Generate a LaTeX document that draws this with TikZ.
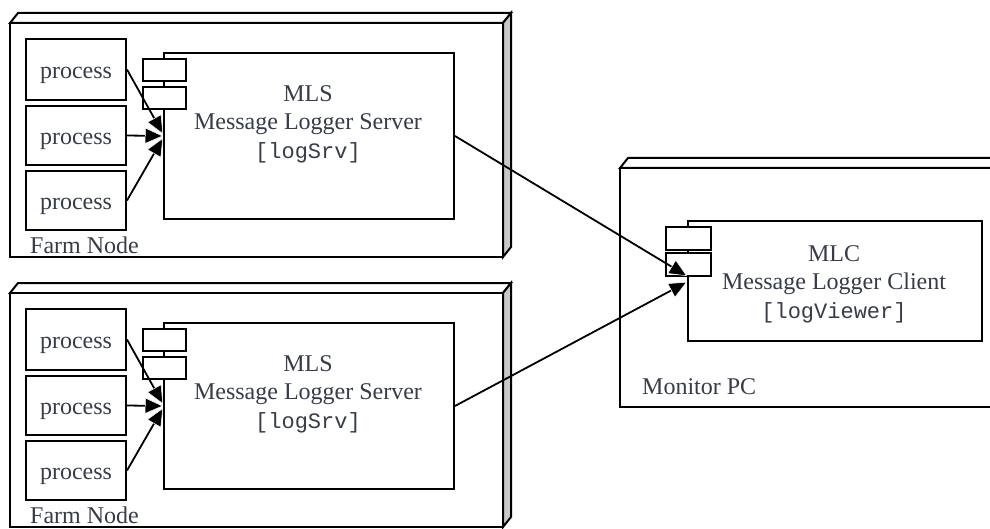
\documentclass[tikz,border=0pt]{standalone}
\usepackage{fontspec}
\setmainfont{Liberation Serif}
\setmonofont{Liberation Mono}
\usetikzlibrary{arrows.meta,calc}

\definecolor{ink}{RGB}{55,60,75}
\definecolor{sideshade}{RGB}{200,200,200}

% deployment node: front face node #1, corners (#2,#3)-(#4,#5), depth (8,-10)
\newcommand\deploynode[5]{%
  \filldraw[frame,fill=white] (#2,#3) -- (#2+8,#3-10) -- (#4+8,#3-10) -- (#4,#3) -- cycle;
  \filldraw[frame,fill=sideshade] (#4,#3) -- (#4+8,#3-10) -- (#4+8,#5-10) -- (#4,#5) -- cycle;
  \path (#2,#3) coordinate (#1nw) (#4,#5) coordinate (#1se);
  \node[frame,fill=white,fit box] (#1) at ($(#1nw)!0.5!(#1se)$)
    [minimum width={((#4)-(#2))*1pt}, minimum height={((#5)-(#3))*1pt}] {};
}

% farm node with three processes and a logger server, shifted down by #2
\newcommand\farmnode[2]{%
  \deploynode{farm#1}{10}{23+#2}{503}{257+#2}
  \node[box,procbox,minimum height=61pt] (p#11) at (25,38+#2) {process};
  \node[box,procbox,minimum height=59pt] (p#12) at (25,105+#2) {process};
  \node[box,procbox,minimum height=59pt] (p#13) at (25,170+#2) {process};
  \node[box,minimum width=290pt,minimum height=166pt] (mls#1) at (163,52+#2) {};
  \node[box,minimum width=43pt,minimum height=22pt] (port#11) at (142,58+#2) {};
  \node[box,minimum width=43pt,minimum height=22pt] (port#12) at (142,86+#2) {};
  \node[lbl,align=center] (mlstext#1) at (308,124+#2)
    {MLS\\Message Logger Server\\{\mono [logSrv]}};
  \node[lbl,anchor=west,inner sep=0pt] (farmlabel#1) at (30,245+#2) {Farm Node};
  \draw[conn] (p#11.east) -- ($(mls#1.west)+(0,-2)$);
  \draw[conn] (p#12.east) -- ($(mls#1.west)+(0,0)$);
  \draw[conn] (p#13.east) -- ($(mls#1.west)+(0,2)$);
}

\newcommand\mono{\ttfamily\fontsize{22}{28.5}\selectfont}

\begin{document}
\begin{tikzpicture}[x=1pt,y=-1pt,
  frame/.style={draw=black,line width=2pt},
  fit box/.style={rectangle,inner sep=0pt},
  lbl/.style={text=ink,font=\fontsize{24}{28.5}\selectfont},
  box/.style={frame,fill=white,rectangle,inner sep=0pt,anchor=north west,
    lbl},
  procbox/.style={minimum width=100pt,text height=18pt,text depth=0pt},
  conn/.style={draw=black,line width=1.8pt,
    -{Triangle[length=18pt,width=16pt,color=white,fill=black,line width=0.5pt]}}]

\useasboundingbox (0,0) rectangle (990,529);
\fill[white] (0,0) rectangle (990,529);
\clip (0,0) rectangle (990,529);

\farmnode{A}{0}
\farmnode{B}{270}

% monitor PC with the logger client
\deploynode{monitor}{620}{168}{1015}{407}
\node[box,minimum width=294pt,minimum height=120pt] (mlc) at (687,220) {};
\node[box,minimum width=45pt,minimum height=23pt] (mlcport1) at (665,226) {};
\node[box,minimum width=45pt,minimum height=23pt] (mlcport2) at (665,252) {};
\node[lbl,align=center] (mlctext) at (834,284)
  {MLC\\Message Logger Client\\{\mono [logViewer]}};
\node[lbl,anchor=west,inner sep=0pt] (monitorlabel) at (642,387) {Monitor PC};

\draw[conn] (mlsA.east) -- ($(mlc.west)+(0,-5)$);
\draw[conn] (mlsB.east) -- ($(mlc.west)+(0,1)$);

\end{tikzpicture}
\end{document}
